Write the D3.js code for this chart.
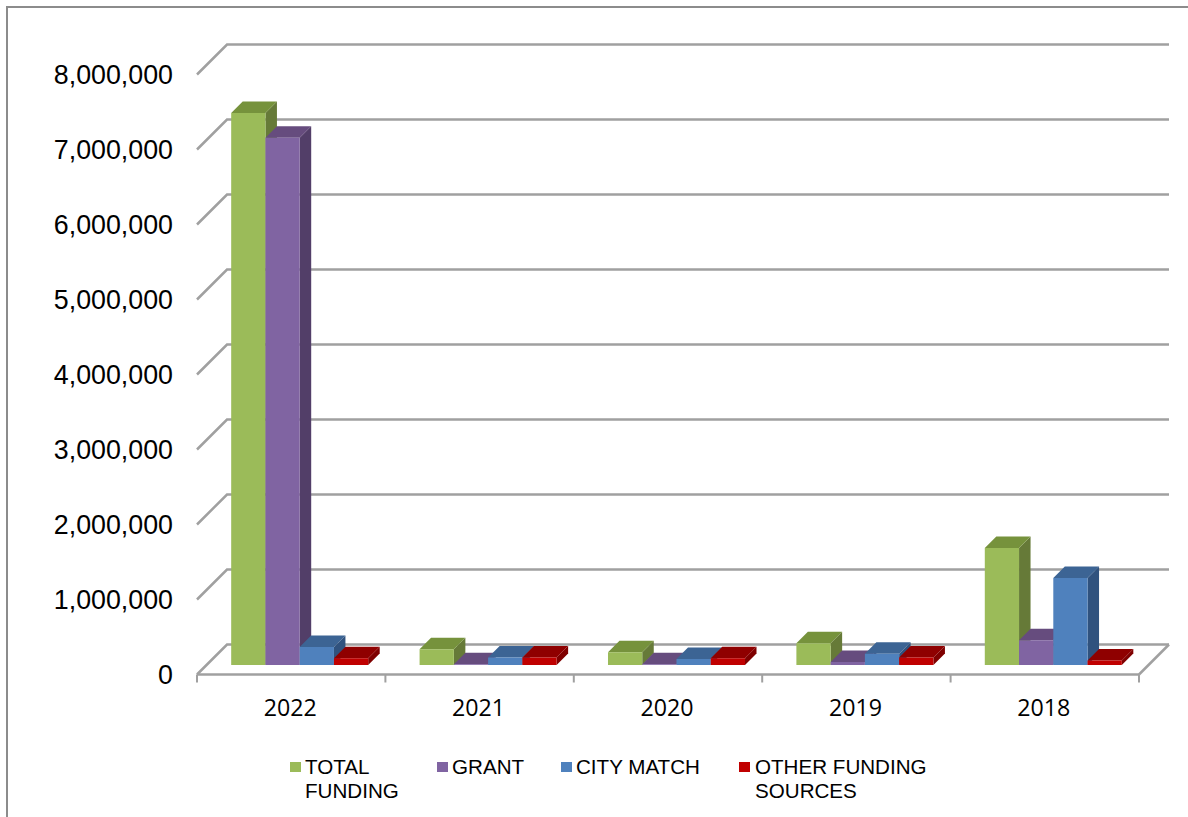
<!DOCTYPE html>
<html>
<head>
<meta charset="utf-8">
<script src="https://cdn.jsdelivr.net/npm/d3@7"></script>
<style>
  html, body { margin: 0; padding: 0; background: #fff; }
  svg { display: block; }
</style>
</head>
<body>
<svg id="chart" width="1188" height="817"></svg>
<script>
const years = ["2022", "2021", "2020", "2019", "2018"];
const totalFunding = [7360000, 210000, 170000, 290000, 1560000];
const grant = [7030000, 10000, 10000, 40000, 330000];
const cityMatch = [240000, 100000, 80000, 150000, 1160000];
const otherFunding = [90000, 100000, 90000, 100000, 60000];
const yTicks = [0, 1000000, 2000000, 3000000, 4000000, 5000000, 6000000, 7000000, 8000000];

const series = [
  { name: "TOTAL FUNDING", values: totalFunding, front: "#9bbb59", top: "#76923c", side: "#667a38", legend: ["TOTAL", "FUNDING"], lx: 290 },
  { name: "GRANT", values: grant, front: "#8064a2", top: "#664c7e", side: "#523e68", legend: ["GRANT"], lx: 437 },
  { name: "CITY MATCH", values: cityMatch, front: "#4f81bd", top: "#3c6494", side: "#30527e", legend: ["CITY MATCH"], lx: 561 },
  { name: "OTHER FUNDING SOURCES", values: otherFunding, front: "#c00000", top: "#8f0000", side: "#7f0000", legend: ["OTHER FUNDING", "SOURCES"], lx: 739 }
];

const svg = d3.select("#chart");
const gridColor = "#a0a0a0";
const wall = 30;      // how far the back wall sits behind the axis plane
const inset = 8.5;    // bars stand this far inside the floor
const depth = 11.5;   // bar depth

const x = d3.scaleBand().domain(years).range([197, 1139]);
const y = d3.scaleLinear().domain([0, 8000000]).range([674.5, 74.5]);
const inner = d3.scaleBand().domain(series.map(s => s.name))
  .range([0, x.bandwidth()]).paddingOuter(0.75);

// frame
svg.append("path")
  .attr("d", "M7,817V7H1188")
  .attr("fill", "none")
  .attr("stroke", "#8c8c8c")
  .attr("stroke-width", 2);

// gridlines, running back along the side wall and across the back
svg.append("g").selectAll("path")
  .data(yTicks)
  .join("path")
  .attr("d", d => `M${x.range()[0]},${y(d)}L${x.range()[0] + wall},${y(d) - wall}H${x.range()[1] + wall}`)
  .attr("fill", "none")
  .attr("stroke", gridColor)
  .attr("stroke-width", 2.5);

// right edge of the floor
svg.append("path")
  .attr("d", `M${x.range()[1]},${y(0)}L${x.range()[1] + wall},${y(0) - wall}`)
  .attr("stroke", gridColor)
  .attr("stroke-width", 2.5);

// y labels
const yAxis = svg.append("g")
  .attr("transform", "translate(173,0)")
  .call(d3.axisLeft(y).tickValues(yTicks).tickSize(0).tickPadding(0).tickFormat(d3.format(",")));
yAxis.select(".domain").remove();
yAxis.selectAll("text")
  .attr("font-family", "'Liberation Sans', Arial, sans-serif")
  .attr("font-size", 26.8)
  .attr("fill", "#000");

// x axis
const xAxis = svg.append("g")
  .attr("transform", `translate(0,${y(0)})`)
  .call(d3.axisBottom(x).tickSize(0).tickPadding(25));
xAxis.select(".domain").remove();
xAxis.selectAll("text")
  .attr("font-family", "'Open Sans', sans-serif")
  .attr("font-size", 23.2)
  .attr("dx", -1)
  .attr("fill", "#000");
xAxis.append("line")
  .attr("x1", x.range()[0]).attr("x2", x.range()[1])
  .attr("stroke", gridColor).attr("stroke-width", 2.5);
xAxis.selectAll("line.cat")
  .data(years.map(d => x(d)).concat(x.range()[1]))
  .join("line")
  .attr("class", "cat")
  .attr("x1", d => d).attr("x2", d => d)
  .attr("y1", 0).attr("y2", 8)
  .attr("stroke", gridColor).attr("stroke-width", 2);

// bars
const barW = inner.bandwidth();
const bars = svg.append("g");
years.forEach((year, i) => {
  series.forEach(s => {
    const x0 = x(year) + inner(s.name) + inset;
    const x1 = x0 + barW;
    const y0 = y(0) - inset - 1;
    const yt = y(s.values[i]) - inset - 1;
    const g = bars.append("g");
    g.append("path")
      .attr("d", `M${x1},${y0}L${x1 + depth},${y0 - depth}V${yt - depth}L${x1},${yt}Z`)
      .attr("fill", s.side);
    g.append("path")
      .attr("d", `M${x0},${yt}L${x0 + depth},${yt - depth}H${x1 + depth}L${x1},${yt}Z`)
      .attr("fill", s.top);
    g.append("rect")
      .attr("x", x0).attr("y", yt)
      .attr("width", barW).attr("height", y0 - yt)
      .attr("fill", s.front);
  });
});

// legend
const legend = svg.append("g").selectAll("g")
  .data(series)
  .join("g")
  .attr("transform", d => `translate(${d.lx},0)`);
legend.append("rect")
  .attr("y", 762).attr("width", 11).attr("height", 10)
  .attr("fill", d => d.front);
legend.append("text")
  .attr("font-family", "'Liberation Sans', Arial, sans-serif")
  .attr("font-size", 20.6)
  .attr("fill", "#000")
  .selectAll("tspan")
  .data(d => d.legend)
  .join("tspan")
  .attr("x", d => d === "OTHER FUNDING" || d === "SOURCES" ? 16 : 15)
  .attr("y", (d, i) => 774 + i * 24)
  .text(d => d);
</script>
</body>
</html>
